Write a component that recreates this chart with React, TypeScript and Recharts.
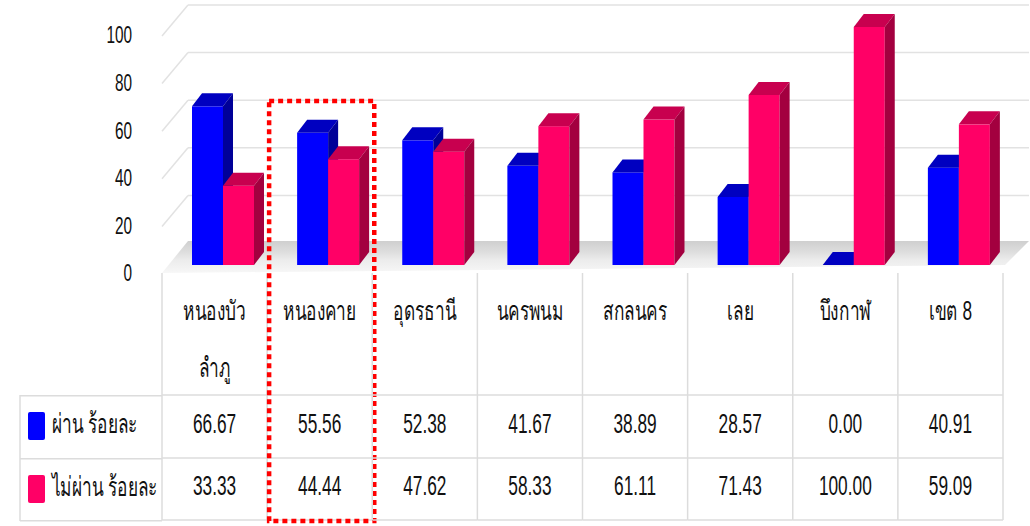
import React from "react";
import { BarChart, Bar, XAxis, YAxis, CartesianGrid, Legend } from "recharts";

// data
const categories = [
  "หนองบัว\nลำภู",
  "หนองคาย",
  "อุดรธานี",
  "นครพนม",
  "สกลนคร",
  "เลย",
  "บึงกาฬ",
  "เขต 8",
];
const passPct = [66.67, 55.56, 52.38, 41.67, 38.89, 28.57, 0.0, 40.91];
const failPct = [33.33, 44.44, 47.62, 58.33, 61.11, 71.43, 100.0, 59.09];
const seriesNames = ["ผ่าน ร้อยละ", "ไม่ผ่าน ร้อยละ"];
const yTicks = [0, 20, 40, 60, 80, 100];
const highlighted = "หนองคาย";

const data = categories.map((name, i) => ({
  name,
  pass: passPct[i],
  fail: failPct[i],
}));

// layout
const W = 1030;
const H = 526;
const PLOT_LEFT = 162;
const PLOT_RIGHT = 1003;
const PLOT_BOTTOM = 265;
const BAND = (PLOT_RIGHT - PLOT_LEFT) / categories.length;
const HEADER_TOP = 273;
const ROW1_TOP = 395;
const ROW2_TOP = 458;
const TABLE_BOTTOM = 520;
const LINE = "#dcdcdc";
const FONT = "'Liberation Sans', Arial, sans-serif";
const SX = 0.64;

const BLUE = { front: "#0000ff", top: "#0000c0", side: "#000098" };
const PINK = { front: "#ff0066", top: "#c8004f", side: "#a3003f" };
const DX = 10;
const DY = 13;
const SHIFT = 8;

function Txt({ x, y, size = 27, anchor = "middle", children }: any) {
  return (
    <text
      transform={`translate(${x},${y}) scale(${SX},1)`}
      textAnchor={anchor}
      dominantBaseline="central"
      fontSize={size}
      fontFamily={FONT}
      fill="#111"
    >
      {children}
    </text>
  );
}

const makeBar3D = (c: { front: string; top: string; side: string }) => (props: any) => {
  const { y, width, height } = props;
  const x = props.x + SHIFT;
  const b = y + height;
  return (
    <g>
      <rect x={x} y={y} width={width} height={height} fill={c.front} />
      <polygon
        points={`${x},${y} ${x + DX},${y - DY} ${x + width + DX},${y - DY} ${x + width},${y}`}
        fill={c.top}
      />
      <polygon
        points={`${x + width},${y} ${x + width + DX},${y - DY} ${x + width + DX},${b - DY} ${x + width},${b}`}
        fill={c.side}
      />
    </g>
  );
};

const GridLine = (props: any) => {
  const { x1, x2, y1 } = props;
  if (Math.abs(y1 - PLOT_BOTTOM) < 1) {
    return (
      <g key={props.key}>
        <defs>
          <linearGradient id="floorGrad" x1="0" y1="0" x2="0" y2="1">
            <stop offset="0" stopColor="#cfcfcf" />
            <stop offset="0.35" stopColor="#dedede" />
            <stop offset="0.6" stopColor="#ececec" />
            <stop offset="1" stopColor="#f7f7f7" />
          </linearGradient>
        </defs>
        <polygon
          points={`${x1},${y1 + 8} ${x1 + 26},${y1 - 24} ${x2 + 26},${y1 - 24} ${x2 + 2},${y1}`}
          fill="url(#floorGrad)"
        />
      </g>
    );
  }
  return (
    <g key={props.key}>
      <line x1={x1} y1={y1 + 9} x2={x1 + 26} y2={y1 - 22} stroke="#e2e2e2" strokeWidth={1.5} />
      <line x1={x1 + 26} y1={y1 - 22} x2={x2 + 26} y2={y1 - 22} stroke="#e2e2e2" strokeWidth={1.5} />
    </g>
  );
};

const YTick = (props: any) => {
  const { y, payload } = props;
  return <Txt x={PLOT_LEFT - 30} y={y + 8} size={24} anchor="end">{payload.value}</Txt>;
};

const TableColumn = (props: any) => {
  const { x, payload } = props;
  const i = categories.indexOf(payload.value);
  const left = x - BAND / 2;
  const right = x + BAND / 2;
  const lines = String(payload.value).split("\n");
  const last = i === categories.length - 1;
  return (
    <g>
      <line x1={left} y1={HEADER_TOP} x2={left} y2={TABLE_BOTTOM} stroke={LINE} strokeWidth={1.5} />
      {last && (
        <line x1={right} y1={HEADER_TOP} x2={right} y2={TABLE_BOTTOM} stroke={LINE} strokeWidth={1.5} />
      )}
      {[ROW1_TOP, ROW2_TOP, TABLE_BOTTOM].map((ry) => (
        <line key={ry} x1={left} y1={ry} x2={right} y2={ry} stroke={LINE} strokeWidth={1.5} />
      ))}
      {lines.map((t, k) => (
        <Txt key={k} x={x} y={310 + k * 57}>{t}</Txt>
      ))}
      <Txt x={x} y={423}>{passPct[i].toFixed(2)}</Txt>
      <Txt x={x} y={485}>{failPct[i].toFixed(2)}</Txt>
      {payload.value === highlighted && (
        <rect
          x={left + 2}
          y={101}
          width={BAND}
          height={420}
          fill="none"
          stroke="#ff0000"
          strokeWidth={4.5}
          strokeDasharray="5 4"
        />
      )}
    </g>
  );
};

const LegendTable = (props: any) => {
  const items = props.payload || [];
  const colors = [BLUE.front, PINK.front];
  const h = TABLE_BOTTOM - ROW1_TOP;
  return (
    <svg width={PLOT_LEFT} height={h + 2} style={{ display: "block" }}>
      {[0, ROW2_TOP - ROW1_TOP, h].map((ry) => (
        <line key={ry} x1={20} y1={ry + 0.75} x2={PLOT_LEFT} y2={ry + 0.75} stroke={LINE} strokeWidth={1.5} />
      ))}
      <line x1={20} y1={0} x2={20} y2={h + 1} stroke={LINE} strokeWidth={1.5} />
      {seriesNames.map((n, k) => (
        <g key={n}>
          <rect x={28} y={17 + k * 63} width={17} height={28} rx={2} fill={items[k]?.color || colors[k]} />
          <Txt x={52} y={28 + k * 63} anchor="start">{n}</Txt>
        </g>
      ))}
    </svg>
  );
};

export default function App() {
  return (
    <div style={{ position: "absolute", left: 0, top: 0, width: W, height: H, background: "#fff" }}>
      <BarChart
        width={W}
        height={H}
        data={data}
        margin={{ top: 27, right: W - PLOT_RIGHT, left: 0, bottom: 6 }}
        barGap={0}
      >
        <CartesianGrid vertical={false} horizontal={GridLine} />
        <YAxis
          domain={[0, 100]}
          ticks={yTicks}
          width={PLOT_LEFT}
          axisLine={false}
          tickLine={false}
          tick={YTick}
        />
        <XAxis
          dataKey="name"
          height={255}
          axisLine={false}
          tickLine={false}
          interval={0}
          tick={TableColumn}
        />
        <Legend
          layout="vertical"
          align="center"
          verticalAlign="middle"
          content={LegendTable}
          wrapperStyle={{ left: 0, top: ROW1_TOP, width: PLOT_LEFT, height: TABLE_BOTTOM - ROW1_TOP + 2 }}
        />
        <Bar
          dataKey="pass"
          name={seriesNames[0]}
          fill={BLUE.front}
          barSize={31}
          shape={makeBar3D(BLUE)}
          isAnimationActive={false}
        />
        <Bar
          dataKey="fail"
          name={seriesNames[1]}
          fill={PINK.front}
          barSize={31}
          shape={makeBar3D(PINK)}
          isAnimationActive={false}
        />
      </BarChart>
    </div>
  );
}
